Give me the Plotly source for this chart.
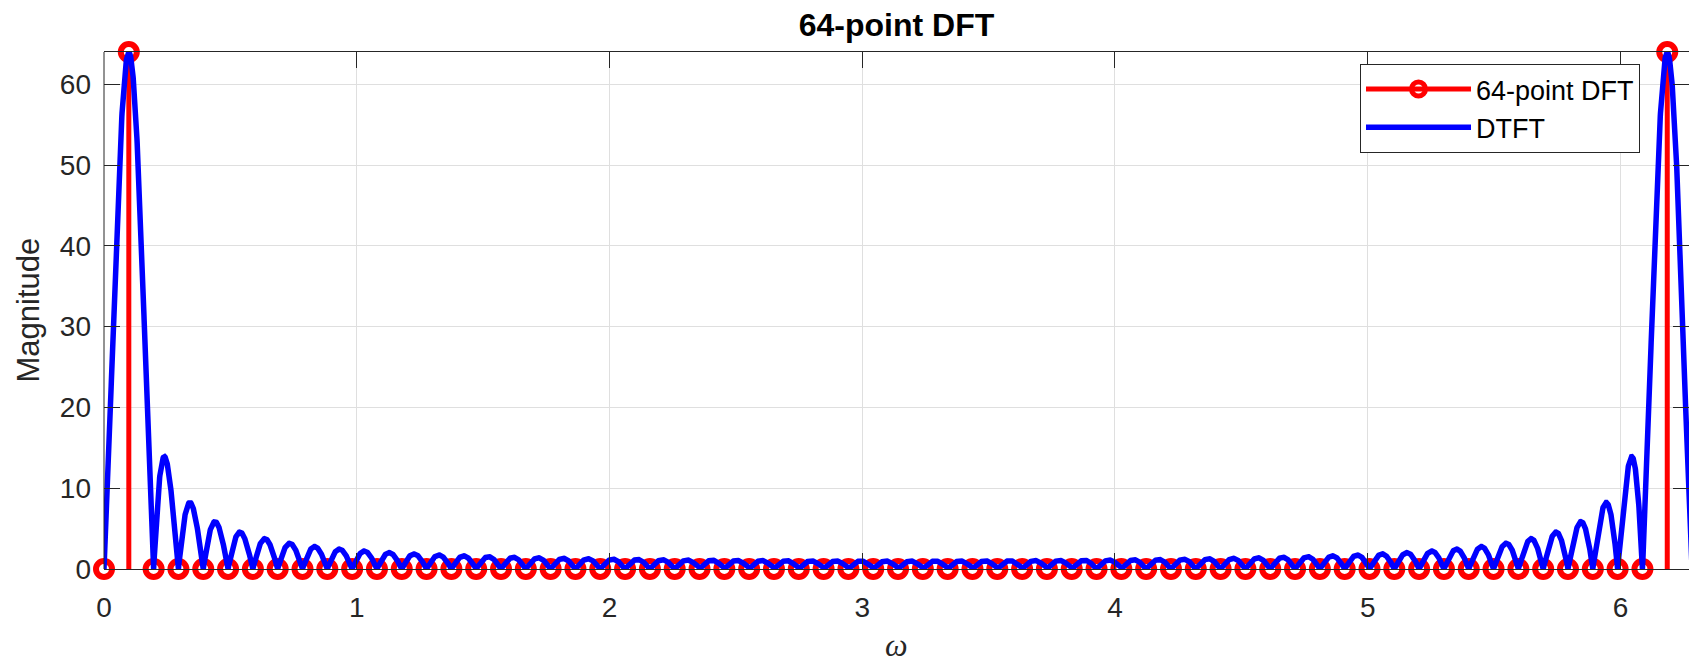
import numpy as np
import plotly.graph_objects as go

# ---- data ----
N = 64
bins = list(range(N))                       # DFT bin index k
dft_mag = [0.0] * N                         # |X[k]| of the 64-point DFT
dft_mag[1] = 64.0
dft_mag[63] = 64.0
x_ticks = [0, 1, 2, 3, 4, 5, 6]
y_ticks = [0, 10, 20, 30, 40, 50, 60]

# DFT bin frequencies
omega_k = np.array([2 * np.pi * k / N for k in bins])
mag = np.array(dft_mag)

# DTFT envelope as drawn in the reference: each DFT bin spread by its
# N-point Dirichlet kernel (dominant contribution at each frequency)
M = 8192
omega_dense = 2 * np.pi * np.arange(M + 1) / M
d = omega_dense[:, None] - omega_k[None, :]
num = np.sin(N * d / 2)
den = np.sin(d / 2)
with np.errstate(divide='ignore', invalid='ignore'):
    ratio = np.where(np.abs(den) < 1e-12, N, num / den)
dtft = (np.abs(ratio) * mag[None, :] / N).max(axis=1)

RED = '#ff0000'
BLUE = '#0000ff'
AX = '#262626'
GRID = '#dfdfdf'

# stem segments
sx, sy = [], []
for w, v in zip(omega_k, dft_mag):
    sx += [w, w, None]
    sy += [0, v, None]

fig = go.Figure()
# legend entry for stems
fig.add_trace(go.Scatter(x=[None], y=[None], mode='lines+markers', name='64-point DFT',
                         line=dict(color=RED, width=5),
                         marker=dict(symbol='circle-open', size=14, color=RED, line=dict(width=5, color=RED))))
fig.add_trace(go.Scatter(x=sx, y=sy, mode='lines', line=dict(color=RED, width=5),
                         showlegend=False, hoverinfo='skip'))
fig.add_trace(go.Scatter(x=omega_k, y=dft_mag, mode='markers', showlegend=False,
                         marker=dict(symbol='circle-open', size=16, color=RED,
                                     line=dict(width=6, color=RED)),
                         cliponaxis=False))
fig.add_trace(go.Scatter(x=omega_dense, y=dtft, mode='lines', name='DTFT',
                         line=dict(color=BLUE, width=5.5)))

x_right = (1689 - 104.3) / 252.7

fig.update_layout(
    width=1689, height=660,
    margin=dict(l=104, r=0, t=52, b=91),
    paper_bgcolor='white', plot_bgcolor='white',
    font=dict(family='Liberation Sans, Arial, sans-serif', color=AX, size=28),
    title=dict(text='<b>64-point DFT</b>', x=0.5, xref='paper', xanchor='center',
               y=1 - 25 / 660, yref='container', yanchor='middle',
               font=dict(size=32, color='black', family='Liberation Sans, Arial, sans-serif')),
    showlegend=True,
    legend=dict(x=(1640 - 104) / 1585, xanchor='right', y=(569 - 64) / 517, yanchor='top',
                bgcolor='white', bordercolor=AX, borderwidth=1,
                font=dict(size=27, color='black'), tracegroupgap=0, itemwidth=105),
)
fig.update_xaxes(range=[0, x_right], tickvals=x_ticks, ticktext=[str(t) for t in x_ticks],
                 showgrid=True, gridcolor=GRID, gridwidth=1, zeroline=False,
                 showline=True, linecolor=AX, linewidth=1, mirror='ticks',
                 ticks='inside', ticklen=16, tickcolor=AX, tickwidth=1,
                 tickfont=dict(size=28, color=AX), ticklabelstandoff=13)
fig.update_yaxes(range=[0, 64], tickvals=y_ticks, ticktext=[str(t) for t in y_ticks],
                 showgrid=True, gridcolor=GRID, gridwidth=1, zeroline=False,
                 showline=False, mirror='ticks',
                 ticks='inside', ticklen=16, tickcolor=AX, tickwidth=1,
                 tickfont=dict(size=28, color=AX), ticklabelstandoff=12)
# left axis line
fig.add_shape(type='line', xref='paper', yref='paper', x0=0, x1=0, y0=0, y1=1,
              line=dict(color=AX, width=1), layer='above')
fig.add_annotation(text='Magnitude', xref='paper', yref='paper', x=0, y=0.5,
                   xshift=-76, xanchor='center', yanchor='middle', textangle=-90,
                   showarrow=False, font=dict(size=31, color=AX))
fig.add_annotation(text='<i>ω</i>', xref='paper', yref='paper', x=0.5, y=0,
                   yshift=-76, xanchor='center', yanchor='middle',
                   showarrow=False, font=dict(size=32, color=AX, family='Liberation Serif, serif'))

fig.write_html('out.html')
